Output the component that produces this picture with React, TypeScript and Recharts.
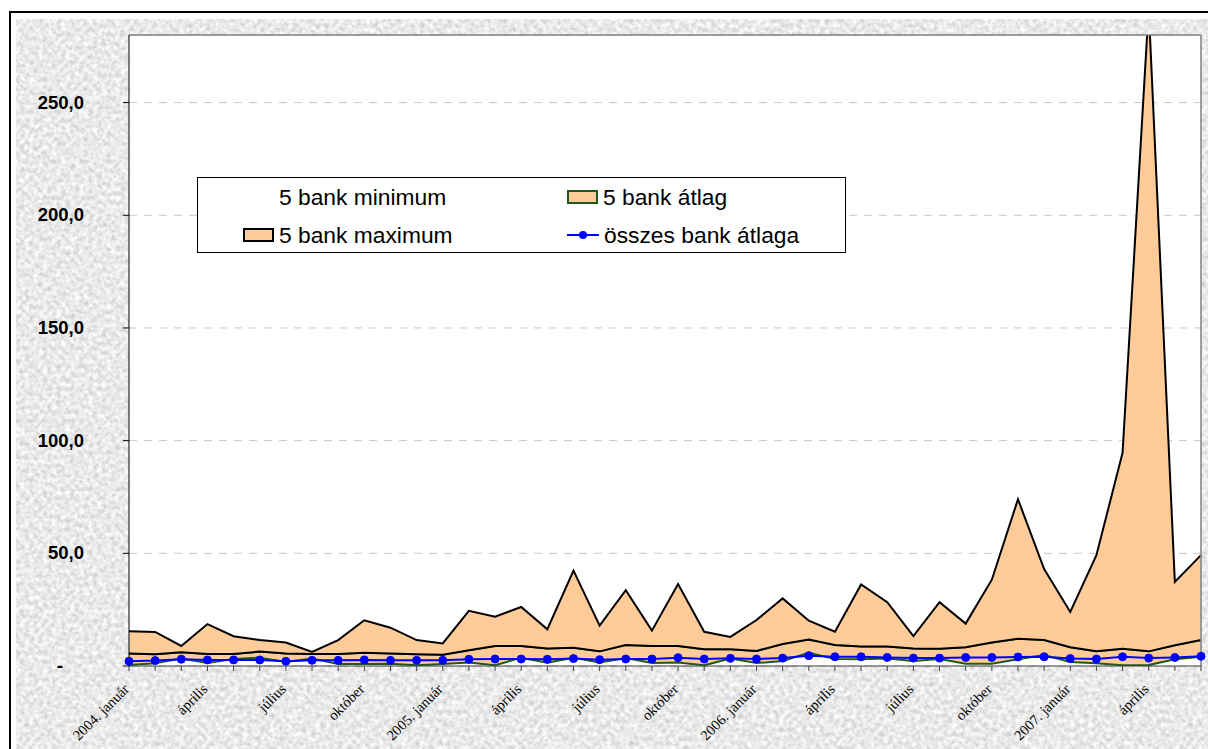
import {
  ComposedChart,
  Area,
  Line,
  XAxis,
  YAxis,
  CartesianGrid,
  Legend,
  ReferenceLine,
} from 'recharts';

// Months: 2004. január – 2007. június
const months = [
  '2004. január', '2004. február', '2004. március', '2004. április', '2004. május', '2004. június',
  '2004. július', '2004. augusztus', '2004. szeptember', '2004. október', '2004. november', '2004. december',
  '2005. január', '2005. február', '2005. március', '2005. április', '2005. május', '2005. június',
  '2005. július', '2005. augusztus', '2005. szeptember', '2005. október', '2005. november', '2005. december',
  '2006. január', '2006. február', '2006. március', '2006. április', '2006. május', '2006. június',
  '2006. július', '2006. augusztus', '2006. szeptember', '2006. október', '2006. november', '2006. december',
  '2007. január', '2007. február', '2007. március', '2007. április', '2007. május', '2007. június',
];

const minValues = [
  0.4, 1.2, 3.3, 1.3, 3.1, 3.7, 1.8, 3.3, 0.9, 0.9, 1.0, 0.3,
  0.9, 1.6, 0.3, 3.7, 1.5, 3.7, 1.6, 3.5, 1.3, 1.5, 0.3, 3.3,
  1.3, 2.2, 5.9, 3.1, 3.0, 3.3, 2.2, 3.1, 1.0, 1.0, 3.0, 4.9,
  1.8, 1.2, 0.3, 0.4, 3.0, 4.1,
];

const avgValues = [
  5.5, 5.2, 6.1, 5.3, 5.3, 6.4, 5.5, 5.3, 5.3, 5.9, 5.5, 5.2,
  5.0, 7.0, 8.9, 8.9, 7.8, 8.1, 6.5, 9.3, 8.9, 8.9, 7.4, 7.4,
  6.7, 9.8, 11.7, 9.3, 8.7, 8.6, 7.8, 7.7, 8.3, 10.4, 12.1, 11.5,
  8.3, 6.5, 7.7, 6.5, 9.2, 11.5,
];

const maxValues = [
  15.4, 15.1, 8.9, 18.6, 13.2, 11.5, 10.4, 6.2, 11.5, 20.3, 17.0, 11.5,
  10.0, 24.5, 21.9, 26.2, 16.3, 42.3, 17.9, 33.6, 15.7, 36.4, 15.2, 12.9,
  20.4, 30.0, 20.1, 15.2, 36.2, 28.3, 13.3, 28.3, 18.8, 38.3, 74.0, 43.0,
  24.0, 49.2, 94.6, 292.0, 37.3, 49.2,
];

const allBanksAvg = [
  2.1, 2.4, 3.0, 2.7, 2.7, 2.7, 2.1, 2.5, 2.5, 2.7, 2.5, 2.5,
  2.5, 3.0, 3.1, 3.1, 3.0, 3.3, 2.8, 3.1, 3.1, 3.7, 3.1, 3.4,
  3.1, 3.5, 4.6, 4.1, 4.1, 3.8, 3.5, 3.5, 3.8, 3.8, 4.0, 4.1,
  3.3, 3.1, 4.1, 3.5, 3.8, 4.3,
];

const yTicks = [0, 50, 100, 150, 200, 250];

const seriesNames = {
  min: '5 bank minimum',
  avg: '5 bank átlag',
  max: '5 bank maximum',
  all: 'összes bank átlaga',
};

const ORANGE = '#FFCC99';
const GREEN = '#1E5A1E';
const BLUE = '#0000FF';

const data = months.map((month, i) => ({
  month,
  min: minValues[i],
  lowBand: [minValues[i], avgValues[i]],
  highBand: [avgValues[i], maxValues[i]],
  all: allBanksAvg[i],
}));

// "250,0" style, zero shown as "-"
const YTick = ({ x, y, payload }: any) => {
  const v = payload.value;
  const label = v === 0 ? '-' : v.toFixed(1).replace('.', ',');
  return (
    <text
      x={x}
      y={y}
      dx={v === 0 ? -21 : 0}
      dy={6}
      textAnchor="end"
      fontFamily="Arial, 'Liberation Sans', sans-serif"
      fontWeight="bold"
      fontSize={18.5}
      fill="#000"
    >
      {label}
    </text>
  );
};

// only every third month is labelled, year shown in January
const XTick = ({ x, y, payload, index }: any) => {
  if (index % 3 !== 0) return null;
  const full: string = payload.value;
  const label = full.endsWith('január') ? full : full.split(' ')[1];
  const ty = y + 17;
  return (
    <text
      x={x + 1}
      y={ty}
      textAnchor="end"
      transform={`rotate(-45, ${x + 1}, ${ty})`}
      fontFamily="'Times New Roman', 'Liberation Serif', serif"
      fontSize={14.5}
      fill="#000"
    >
      {label}
    </text>
  );
};

const Swatch = ({ name }: { name: string }) => {
  if (name === seriesNames.all) {
    return (
      <svg width={32} height={14} style={{ display: 'block' }}>
        <line x1={0} y1={7} x2={32} y2={7} stroke={BLUE} strokeWidth={2} />
        <circle cx={16} cy={7} r={4} fill={BLUE} />
      </svg>
    );
  }
  if (name === seriesNames.min) return <div style={{ width: 31, height: 14 }} />;
  return (
    <div
      style={{
        width: 27,
        height: 10,
        background: ORANGE,
        border: `2px solid ${name === seriesNames.avg ? GREEN : '#000'}`,
      }}
    />
  );
};

const legendOrder = [seriesNames.min, seriesNames.avg, seriesNames.max, seriesNames.all];

const LegendBox = ({ payload }: any) => {
  const names: string[] = legendOrder.filter((n) =>
    (payload || []).some((p: any) => p.value === n)
  );
  return (
    <div
      style={{
        width: 649,
        height: 76,
        boxSizing: 'border-box',
        border: '1px solid #000',
        background: '#fff',
        position: 'relative',
        fontFamily: "Arial, 'Liberation Sans', sans-serif",
        fontSize: 22.8,
        color: '#000',
      }}
    >
      {names.map((name, i) => {
        const col = i % 2;
        const row = Math.floor(i / 2);
        return (
          <div
            key={name}
            style={{
              position: 'absolute',
              left: col === 0 ? 45 : 369,
              top: row === 0 ? 6 : 44,
              height: 26,
              display: 'flex',
              alignItems: 'center',
              whiteSpace: 'nowrap',
            }}
          >
            <Swatch name={name} />
            <span style={{ marginLeft: 5 }}>{name}</span>
          </div>
        );
      })}
    </div>
  );
};

const Granite = () => (
  <svg width="100%" height="100%" style={{ position: 'absolute', left: 0, top: 0 }}>
    <filter id="granite" x="0" y="0" width="100%" height="100%">
      <feTurbulence type="fractalNoise" baseFrequency="0.22" numOctaves={4} seed={7} />
      <feColorMatrix
        type="matrix"
        values="0.6 0 0 0 0.52  0.6 0 0 0 0.52  0.6 0 0 0 0.52  0 0 0 0 1"
      />
    </filter>
    <rect width="100%" height="100%" filter="url(#granite)" />
  </svg>
);

export default function App() {
  return (
    <div
      style={{
        position: 'absolute',
        left: 0,
        top: 0,
        width: 1208,
        height: 749,
        overflow: 'hidden',
        background: '#fff',
      }}
    >
      <div
        style={{
          position: 'absolute',
          left: 9,
          top: 11,
          width: 1300,
          height: 900,
          border: '2px solid #000',
        }}
      />
      <div style={{ position: 'absolute', left: 16, top: 19, width: 1300, height: 900 }}>
        <Granite />
      </div>
      <div style={{ position: 'absolute', left: 0, top: 0 }}>
        <ComposedChart
          width={1208}
          height={749}
          data={data}
          margin={{ top: 35, right: 7, bottom: 0, left: 0 }}
        >
          <CartesianGrid
            vertical={false}
            fill="#fff"
            stroke="#C8C8C8"
            strokeDasharray="8 7"
          />
          <XAxis
            dataKey="month"
            height={83}
            interval={0}
            tickSize={5}
            tick={<XTick />}
            stroke="#404040"
            tickLine={{ stroke: '#404040' }}
          />
          <YAxis
            width={129}
            domain={[0, 280]}
            ticks={yTicks}
            allowDataOverflow
            tickSize={6}
            tickMargin={39}
            tick={<YTick />}
            stroke="#000"
          />
          <ReferenceLine y={280} stroke="#808080" strokeWidth={1.5} />
          <ReferenceLine x={months[months.length - 1]} stroke="#808080" strokeWidth={1.5} />
          <Legend
            layout="horizontal"
            verticalAlign="middle"
            align="center"
            content={<LegendBox />}
            wrapperStyle={{ left: 197, top: 177, width: 649, height: 76 }}
          />
          <Area
            type="linear"
            dataKey="min"
            name={seriesNames.min}
            fill="none"
            stroke="none"
            isAnimationActive={false}
          />
          <Area
            type="linear"
            dataKey="lowBand"
            name={seriesNames.avg}
            fill={ORANGE}
            fillOpacity={1}
            stroke={GREEN}
            strokeWidth={2}
            isAnimationActive={false}
          />
          <Area
            type="linear"
            dataKey="highBand"
            name={seriesNames.max}
            fill={ORANGE}
            fillOpacity={1}
            stroke="#000"
            strokeWidth={2}
            isAnimationActive={false}
          />
          <Line
            type="linear"
            dataKey="all"
            name={seriesNames.all}
            stroke={BLUE}
            strokeWidth={2}
            dot={{ r: 4, fill: BLUE, stroke: BLUE, strokeWidth: 1 }}
            isAnimationActive={false}
          />
        </ComposedChart>
      </div>
    </div>
  );
}
